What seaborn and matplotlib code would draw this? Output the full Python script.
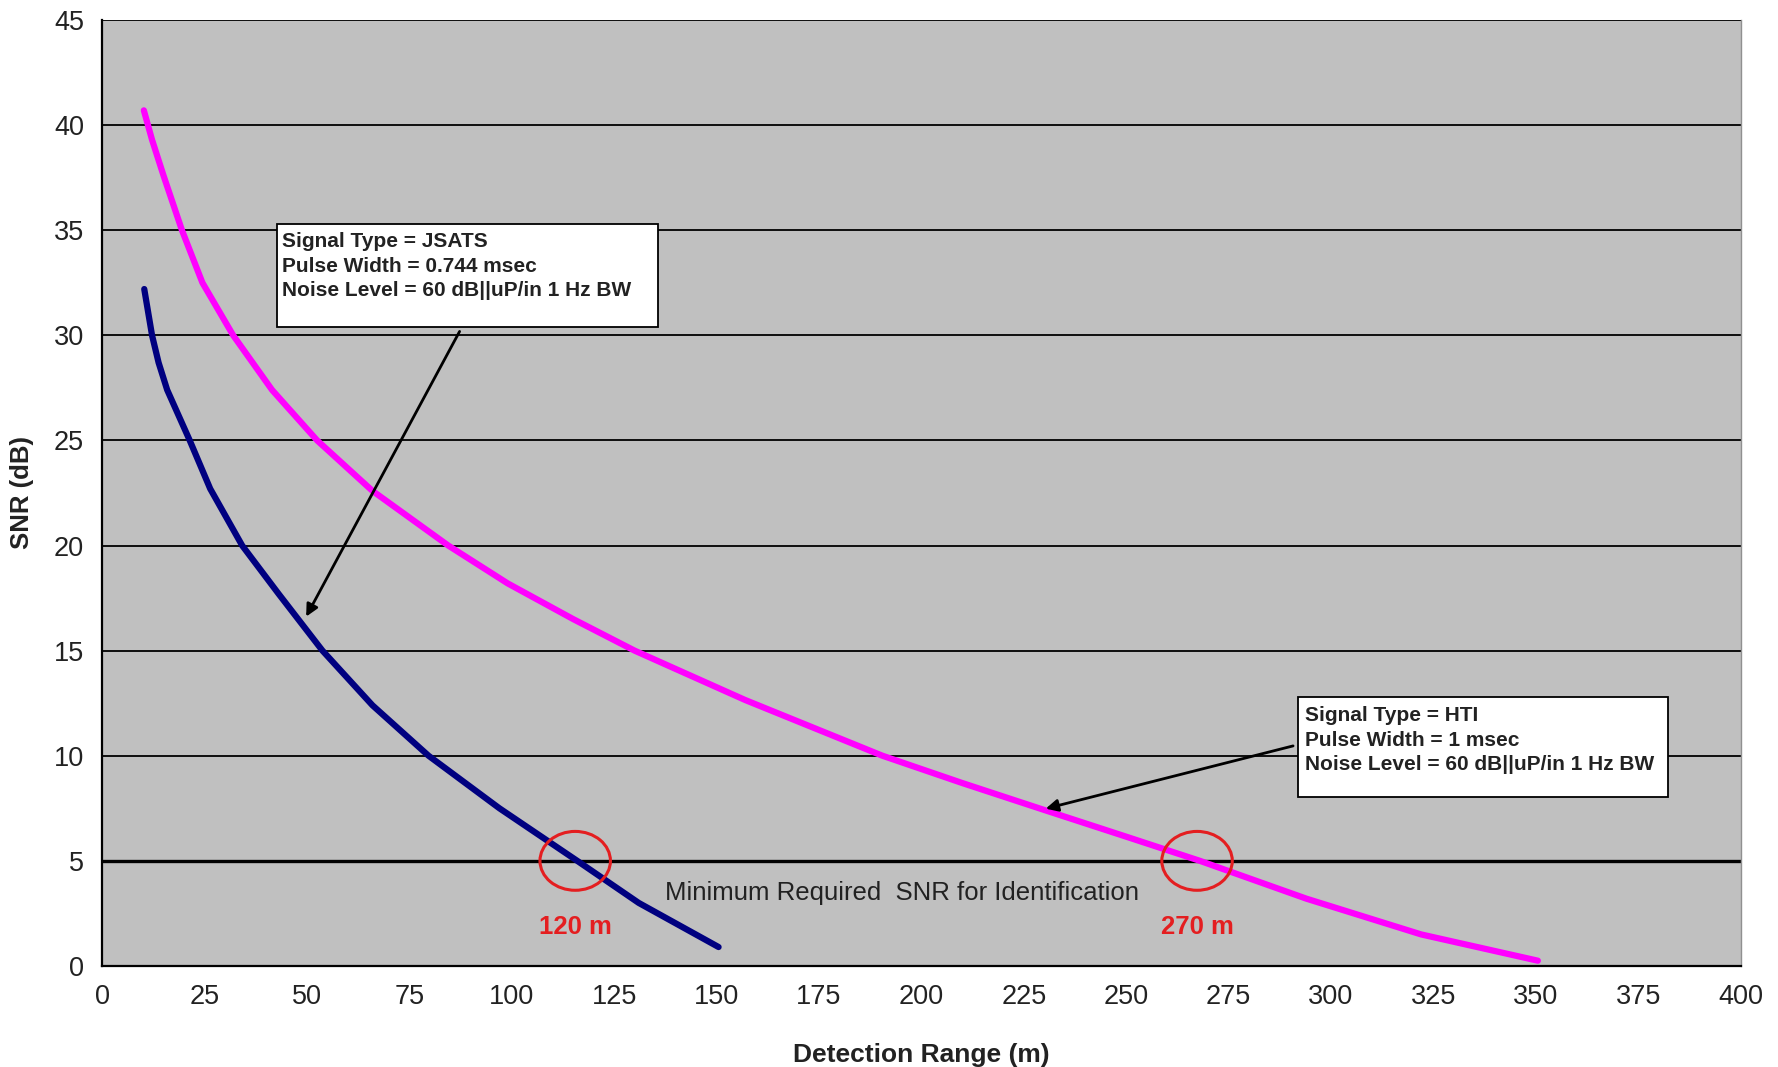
import numpy as np
import pandas as pd
import matplotlib
matplotlib.use("Agg")
import matplotlib.pyplot as plt
import seaborn as sns
from matplotlib.patches import Ellipse, Rectangle

# values
jsats_range = [10.3, 12.2, 13.8, 15.9, 21.4, 26.4, 34.2, 43.1, 53.8, 66, 79.7, 97, 116, 131, 150.5]
jsats_snr = [32.2, 30.0, 28.7, 27.4, 25.0, 22.7, 20.0, 17.7, 15.0, 12.4, 10.0, 7.5, 5.0, 3.0, 0.9]

hti_range = [10.2, 12.2, 15, 19.5, 24.5, 32, 41.5, 52.5, 66, 84.5, 99, 115, 130, 157,
             190.5, 210, 230, 250, 268, 294, 322, 350.5]
hti_snr = [40.7, 39.3, 37.6, 35.0, 32.5, 30.0, 27.4, 25.0, 22.6, 20.0, 18.2, 16.5, 15.0, 12.65,
           10.0, 8.7, 7.42, 6.15, 5.0, 3.2, 1.5, 0.25]

min_snr = 5
crossings = [115.5, 267.3]
crossing_labels = ["120 m", "270 m"]

jsats_text = "Signal Type = JSATS\nPulse Width = 0.744 msec\nNoise Level = 60 dB||uP/in 1 Hz BW"
hti_text = "Signal Type = HTI\nPulse Width = 1 msec\nNoise Level = 60 dB||uP/in 1 Hz BW"
min_text = "Minimum Required  SNR for Identification"

df = pd.concat([
    pd.DataFrame({"range": jsats_range, "snr": jsats_snr, "signal": "JSATS"}),
    pd.DataFrame({"range": hti_range, "snr": hti_snr, "signal": "HTI"}),
])

sns.set_style("white")
plt.rcParams["font.family"] = ["Liberation Sans", "DejaVu Sans"]

fig = plt.figure(figsize=(17.78, 10.67), dpi=100)
ax = fig.add_axes([0.0574, 0.0947, 0.9216, 0.8866])
ax.set_facecolor("#C0C0C0")

for y in range(5, 50, 5):
    ax.axhline(y, color="black", lw=1.3, zorder=1)
ax.axhline(min_snr, color="black", lw=2.4, zorder=2)

sns.lineplot(data=df, x="range", y="snr", hue="signal",
             palette={"JSATS": "#000080", "HTI": "#FF00FF"},
             lw=4.5, legend=False, ax=ax, zorder=3,
             solid_capstyle="round", solid_joinstyle="round")

for xc, lab in zip(crossings, crossing_labels):
    ax.add_patch(Ellipse((xc, min_snr), 17.2, 2.8, fill=False,
                         edgecolor="#E41E20", lw=2.2, zorder=4))
    ax.text(xc, 1.87, lab, color="#E41E20", fontsize=18.5, fontweight="bold",
            ha="center", va="center", zorder=5)

ax.text(195.2, 3.47, min_text, fontsize=18.5,
        ha="center", va="center", color="#222222", zorder=5)

# annotation boxes
ax.add_patch(Rectangle((42.7, 30.4), 93.0, 4.9, facecolor="white",
                       edgecolor="black", lw=1.3, zorder=6))
ax.text(44.0, 34.9, jsats_text, fontsize=15, fontweight="bold", color="#222222",
        va="top", ha="left", linespacing=1.35, zorder=7)
ax.annotate("", xy=(49.5, 16.5), xytext=(87.6, 30.3),
            arrowprops=dict(arrowstyle="-|>", color="black", lw=2,
                            mutation_scale=18), zorder=6)

ax.add_patch(Rectangle((291.9, 8.05), 90.3, 4.75, facecolor="white",
                       edgecolor="black", lw=1.3, zorder=6))
ax.text(293.6, 12.35, hti_text, fontsize=15, fontweight="bold", color="#222222",
        va="top", ha="left", linespacing=1.35, zorder=7)
ax.annotate("", xy=(229.7, 7.45), xytext=(291.4, 10.5),
            arrowprops=dict(arrowstyle="-|>", color="black", lw=2,
                            mutation_scale=18), zorder=6)

ax.set_xlim(0, 400)
ax.set_ylim(0, 45)
ax.set_xticks(range(0, 401, 25))
ax.set_yticks(range(0, 46, 5))
ax.tick_params(axis="both", labelsize=19.5, colors="black", labelcolor="#222222",
               length=7, width=1.3, direction="out", pad=6)
ax.set_xlabel("Detection Range (m)", fontsize=19, fontweight="bold",
              labelpad=24, color="#222222")
ax.set_ylabel("SNR (dB)", fontsize=18.5, fontweight="bold", labelpad=14,
              color="#222222")

for side in ["left", "bottom"]:
    ax.spines[side].set_color("black")
    ax.spines[side].set_linewidth(1.6)
ax.spines["top"].set_visible(False)
ax.spines["right"].set_color("#909090")
ax.spines["right"].set_linewidth(1)

fig.savefig("out.png", dpi=100, facecolor="white")
